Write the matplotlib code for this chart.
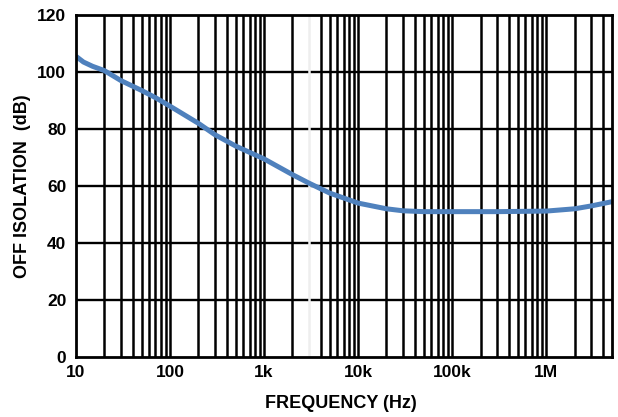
import matplotlib
matplotlib.use("Agg")
import matplotlib.pyplot as plt
import numpy as np

# Data
freq_hz = [10, 12, 15, 20, 30, 50, 70, 100, 200, 300, 500, 1000, 2000, 3000,
           5000, 10000, 20000, 30000, 50000, 100000, 300000, 1000000,
           2000000, 3000000, 5000000]
isolation_db = [105.5, 103.5, 102.0, 100.5, 97.0, 93.5, 91.0, 88.0, 82.0, 78.0,
                74.0, 69.5, 64.0, 61.0, 57.5, 54.0, 52.0, 51.3, 51.0, 51.0,
                51.0, 51.2, 52.0, 53.0, 54.5]

x_ticks = [10, 100, 1000, 10000, 100000, 1000000]
x_tick_labels = ["10", "100", "1k", "10k", "100k", "1M"]
y_ticks = [0, 20, 40, 60, 80, 100, 120]

plt.rcParams['font.family'] = ['Liberation Sans', 'DejaVu Sans']
plt.rcParams['font.weight'] = 'bold'

fig = plt.figure(figsize=(6.18, 4.17), dpi=100)
ax = fig.add_axes([76/618, 60/417, 536/618, 342/417])

ax.set_xscale('log')
ax.set_xlim(10, 5e6)
ax.set_ylim(0, 120)

# vertical grid lines at 1..9 per decade
for dec in [10, 100, 1000, 10000, 100000, 1000000]:
    for m in range(1, 10):
        f = dec * m
        if f <= 10 or f >= 5e6:
            continue
        if f == 3000:
            continue
        ax.axvline(f, color='black', lw=1.8, zorder=1)
for y in y_ticks[1:-1]:
    ax.axhline(y, color='black', lw=1.7, zorder=1)
ax.axvline(3000, color='#eeeeee', lw=1.8, zorder=2)

ax.plot(freq_hz, isolation_db, color='#4f81bd', lw=3.6, zorder=3,
        solid_capstyle='butt')

for s in ax.spines.values():
    s.set_linewidth(2.0)
    s.set_color('black')
    s.set_zorder(4)

ax.set_xticks(x_ticks)
ax.set_xticklabels(x_tick_labels)
ax.xaxis.set_minor_locator(matplotlib.ticker.NullLocator())
ax.set_yticks(y_ticks)
ax.tick_params(length=0, labelsize=12.5, pad=6)
ax.tick_params(axis='y', pad=7)
for lab in ax.get_xticklabels() + ax.get_yticklabels():
    lab.set_fontweight('bold')

fig.text(341/618, 1 - 403/417, "FREQUENCY (Hz)", ha='center', va='center',
         fontsize=13, fontweight='bold')
fig.text(23/618, 1 - 186/417, "OFF ISOLATION  (dB)", ha='center', va='center',
         rotation=90, fontsize=13, fontweight='bold')

fig.savefig("out.png", dpi=100)
